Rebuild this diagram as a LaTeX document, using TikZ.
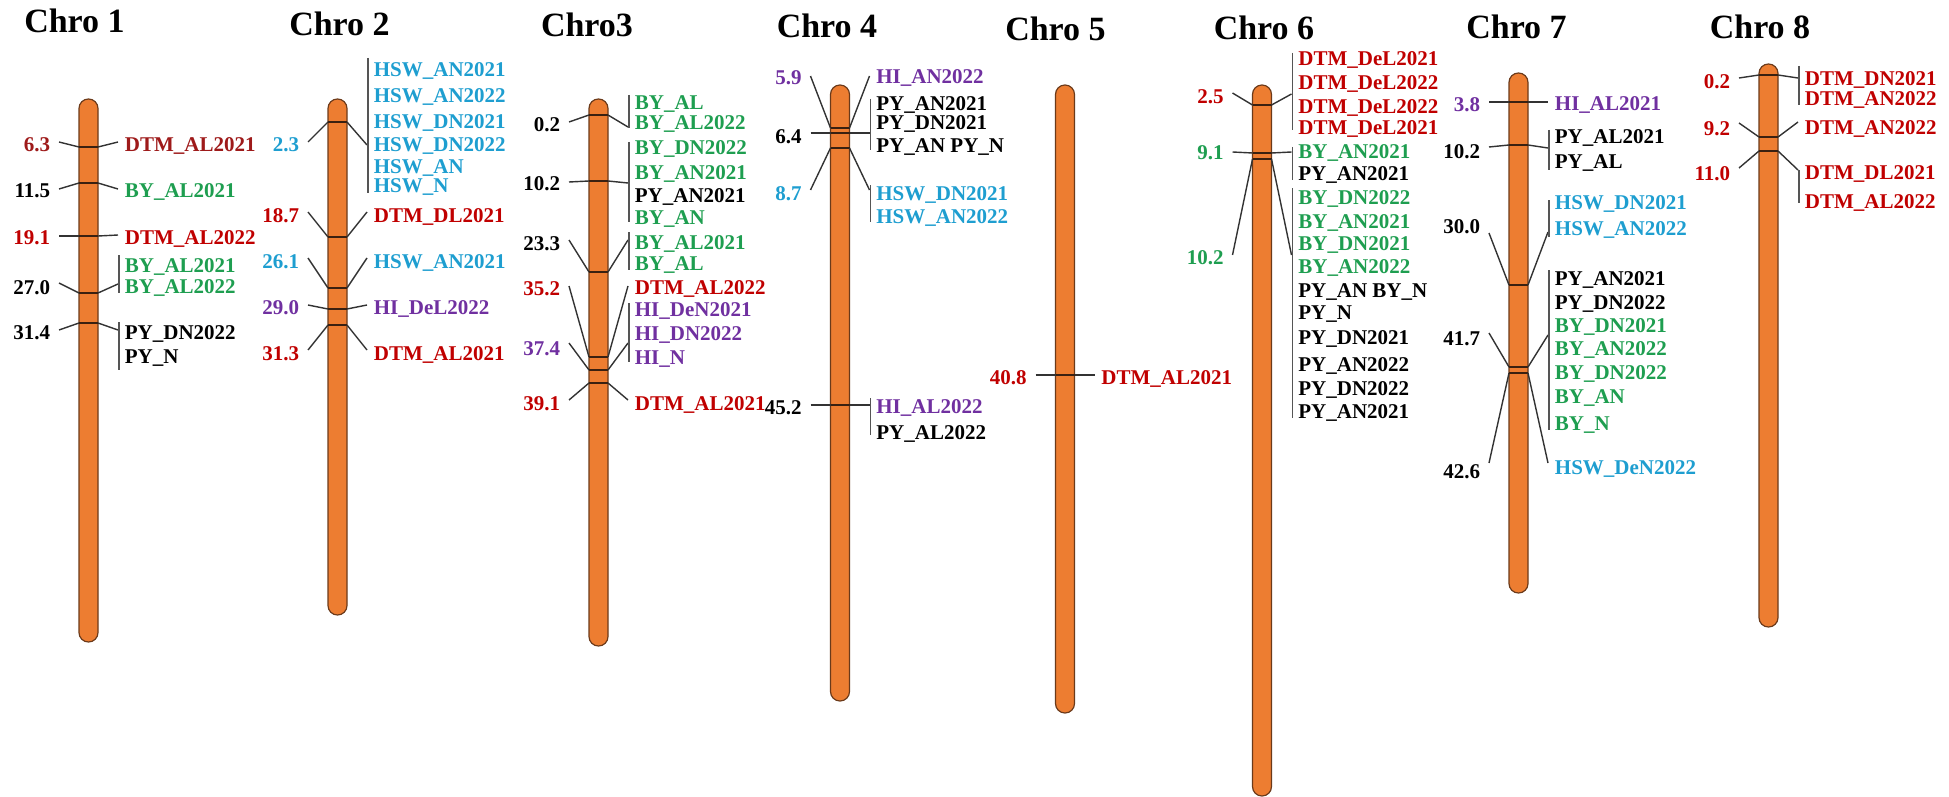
\documentclass[tikz,border=0pt]{standalone}
\usepackage{fontspec}
\setmainfont{Liberation Serif}
\definecolor{chrofill}{HTML}{ED7D31}
\definecolor{chroline}{HTML}{6B3A1A}
\definecolor{bandc}{HTML}{3A2010}
\definecolor{cred}{HTML}{C00000}
\definecolor{cmaroon}{HTML}{9E1A1A}
\definecolor{cgreen}{HTML}{1E9E50}
\definecolor{ccyan}{HTML}{1E9ED0}
\definecolor{cpurple}{HTML}{7030A0}
\definecolor{clink}{HTML}{333333}
\definecolor{cbrk}{HTML}{555555}
\tikzset{
 chrom/.style={fill=chrofill, draw=chroline, line width=0.6pt, rounded corners=4.7pt},
 ttl/.style={font=\fontsize{17}{20}\selectfont\bfseries, inner sep=0pt, anchor=base},
 num/.style={font=\fontsize{10.5}{12}\selectfont\bfseries, inner sep=0pt, anchor=base east},
 lbl/.style={font=\fontsize{10.5}{12}\selectfont\bfseries, inner sep=0pt, anchor=base west},
 link/.style={draw=clink, line width=0.7pt},
 band/.style={draw=bandc, line width=1pt},
 brk/.style={draw=cbrk, line width=0.7pt},
}
% #1 id, #2 xc, #3 band y, #4 number mid y, #5 colour, #6 number, #7 left y, #8 right y
\newcommand\qtl[8]{%
  \node[num, text=#5] (#1n) at ({#2-38},{#4+7}) {#6};
  \coordinate (#1a) at ({#2-29.5},#7);
  \coordinate (#1b) at ({#2-9.5},#3);
  \coordinate (#1c) at ({#2+9.5},#3);
  \coordinate (#1d) at ({#2+29.5},#8);
  \draw[link] (#1a) -- (#1b);
  \draw[band] (#1b) -- (#1c);
  \draw[link] (#1c) -- (#1d);
}
% #1 id, #2 xc, #3 mid y, #4 colour, #5 text
\newcommand\qlab[5]{\node[lbl, text=#4] (#1) at ({#2+36},{#3+7}) {#5};}
% #1 id, #2 xc, #3 y1, #4 y2
\newcommand\qbrk[4]{%
  \coordinate (#1p) at ({#2+30.5},#3);
  \coordinate (#1q) at ({#2+30.5},#4);
  \draw[brk] (#1p) -- (#1q);}
% #1 id, #2 xc, #3 top, #4 bottom
\newcommand\chromo[4]{\path[chrom] ({#2-9.5},#3) rectangle ({#2+9.5},#4);}
\begin{document}
\begin{tikzpicture}[x=0.5pt,y=-0.5pt]
\useasboundingbox (0,0) rectangle (1949,797);
% titles
\node[ttl] (t1) at (74.5,33) {Chro 1};
\node[ttl] (t2) at (339.5,36) {Chro 2};
\node[ttl] (t3) at (587,37) {Chro3};
\node[ttl] (t4) at (827,38) {Chro 4};
\node[ttl] (t5) at (1055.5,41) {Chro 5};
\node[ttl] (t6) at (1264,40) {Chro 6};
\node[ttl] (t7) at (1516.5,39) {Chro 7};
\node[ttl] (t8) at (1760,39) {Chro 8};
% chromosomes
\chromo{k1}{88.5}{99}{642}
\chromo{k2}{337.5}{99}{615}
\chromo{k3}{598.5}{99}{646}
\chromo{k4}{840}{85}{701}
\chromo{k5}{1065}{85}{713}
\chromo{k6}{1262}{85}{796}
\chromo{k7}{1518.5}{73}{593}
\chromo{k8}{1768.5}{64}{627}
% ---- Chro 1
\qtl{c1a}{88.5}{147}{145}{cmaroon}{6.3}{142}{142}
\qlab{l1a}{88.5}{145}{cmaroon}{DTM\_AL2021}
\qtl{c1b}{88.5}{183}{191}{black}{11.5}{189}{189}
\qlab{l1b}{88.5}{191}{cgreen}{BY\_AL2021}
\qtl{c1c}{88.5}{236}{237}{cred}{19.1}{236}{235}
\qlab{l1c}{88.5}{237}{cred}{DTM\_AL2022}
\qtl{c1d}{88.5}{293}{287}{black}{27.0}{283}{284}
\qbrk{b1d}{88.5}{255}{293}
\qlab{l1d1}{88.5}{265}{cgreen}{BY\_AL2021}
\qlab{l1d2}{88.5}{286}{cgreen}{BY\_AL2022}
\qtl{c1e}{88.5}{323}{332}{black}{31.4}{330}{330}
\qbrk{b1e}{88.5}{322}{370}
\qlab{l1e1}{88.5}{332}{black}{PY\_DN2022}
\qlab{l1e2}{88.5}{356}{black}{PY\_N}
% ---- Chro 2
\qtl{c2a}{337.5}{122}{145}{ccyan}{2.3}{142}{145}
\qbrk{b2a}{337.5}{58}{193}
\qlab{l2a1}{337.5}{70}{ccyan}{HSW\_AN2021}
\qlab{l2a2}{337.5}{96}{ccyan}{HSW\_AN2022}
\qlab{l2a3}{337.5}{121}{ccyan}{HSW\_DN2021}
\qlab{l2a4}{337.5}{144}{ccyan}{HSW\_DN2022}
\qlab{l2a5}{337.5}{167}{ccyan}{HSW\_AN}
\qlab{l2a6}{337.5}{185}{ccyan}{HSW\_N}
\qtl{c2b}{337.5}{237}{215}{cred}{18.7}{212}{212}
\qlab{l2b}{337.5}{215}{cred}{DTM\_DL2021}
\qtl{c2c}{337.5}{288}{261}{ccyan}{26.1}{258}{258}
\qlab{l2c}{337.5}{261}{ccyan}{HSW\_AN2021}
\qtl{c2d}{337.5}{309}{307}{cpurple}{29.0}{305}{305}
\qlab{l2d}{337.5}{307}{cpurple}{HI\_DeL2022}
\qtl{c2e}{337.5}{325}{353}{cred}{31.3}{350}{350}
\qlab{l2e}{337.5}{353}{cred}{DTM\_AL2021}
% ---- Chro 3
\qtl{c3a}{598.5}{115}{125}{black}{0.2}{122}{127}
\qbrk{b3a}{598.5}{95}{128}
\qlab{l3a1}{598.5}{103}{cgreen}{BY\_AL}
\qlab{l3a2}{598.5}{123}{cgreen}{BY\_AL2022}
\qtl{c3b}{598.5}{181}{184}{black}{10.2}{182}{183}
\qbrk{b3b}{598.5}{142}{222}
\qlab{l3b1}{598.5}{148}{cgreen}{BY\_DN2022}
\qlab{l3b2}{598.5}{172}{cgreen}{BY\_AN2021}
\qlab{l3b3}{598.5}{195}{black}{PY\_AN2021}
\qlab{l3b4}{598.5}{217}{cgreen}{BY\_AN}
\qtl{c3c}{598.5}{272}{243}{black}{23.3}{240}{240}
\qbrk{b3c}{598.5}{232}{270}
\qlab{l3c1}{598.5}{242}{cgreen}{BY\_AL2021}
\qlab{l3c2}{598.5}{263}{cgreen}{BY\_AL}
\qtl{c3d}{598.5}{357}{288}{cred}{35.2}{286}{286}
\qlab{l3d}{598.5}{287}{cred}{DTM\_AL2022}
\qtl{c3e}{598.5}{370}{348}{cpurple}{37.4}{343}{343}
\qbrk{b3e}{598.5}{303}{362}
\qlab{l3e1}{598.5}{309}{cpurple}{HI\_DeN2021}
\qlab{l3e2}{598.5}{333}{cpurple}{HI\_DN2022}
\qlab{l3e3}{598.5}{357}{cpurple}{HI\_N}
\qtl{c3f}{598.5}{383}{403}{cred}{39.1}{400}{400}
\qlab{l3f}{598.5}{403}{cred}{DTM\_AL2021}
% ---- Chro 4
\qtl{c4a}{840}{128}{78}{cpurple}{5.9}{76}{76}
\qlab{l4a}{840}{77}{cpurple}{HI\_AN2022}
\qtl{c4b}{840}{133}{136}{black}{6.4}{133}{133}
\qbrk{b4b}{840}{99}{150}
\qlab{l4b1}{840}{104}{black}{PY\_AN2021}
\qlab{l4b2}{840}{123}{black}{PY\_DN2021}
\qlab{l4b3}{840}{146}{black}{PY\_AN PY\_N}
\qtl{c4c}{840}{148}{193}{ccyan}{8.7}{190}{190}
\qbrk{b4c}{840}{185}{222}
\qlab{l4c1}{840}{193}{ccyan}{HSW\_DN2021}
\qlab{l4c2}{840}{216}{ccyan}{HSW\_AN2022}
\qtl{c4d}{840}{405}{407}{black}{45.2}{405}{405}
\qbrk{b4d}{840}{398}{435}
\qlab{l4d1}{840}{406}{cpurple}{HI\_AL2022}
\qlab{l4d2}{840}{432}{black}{PY\_AL2022}
% ---- Chro 5
\qtl{c5a}{1065}{375}{377}{cred}{40.8}{375}{375}
\qlab{l5a}{1065}{377}{cred}{DTM\_AL2021}
% ---- Chro 6
\qtl{c6a}{1262}{105}{97}{cred}{2.5}{93}{94}
\qbrk{b6a}{1262}{53}{130}
\qlab{l6a1}{1262}{59}{cred}{DTM\_DeL2021}
\qlab{l6a2}{1262}{83}{cred}{DTM\_DeL2022}
\qlab{l6a3}{1262}{106}{cred}{DTM\_DeL2022}
\qlab{l6a4}{1262}{127}{cred}{DTM\_DeL2021}
\qtl{c6b}{1262}{153}{153}{cgreen}{9.1}{152}{152}
\qbrk{b6b}{1262}{147}{180}
\qlab{l6b1}{1262}{152}{cgreen}{BY\_AN2021}
\qlab{l6b2}{1262}{173}{black}{PY\_AN2021}
\qtl{c6c}{1262}{159}{257}{cgreen}{10.2}{255}{255}
\qbrk{b6c}{1262}{188}{418}
\qlab{l6c1}{1262}{198}{cgreen}{BY\_DN2022}
\qlab{l6c2}{1262}{221}{cgreen}{BY\_AN2021}
\qlab{l6c3}{1262}{243}{cgreen}{BY\_DN2021}
\qlab{l6c4}{1262}{266}{cgreen}{BY\_AN2022}
\qlab{l6c5}{1262}{290}{black}{PY\_AN BY\_N}
\qlab{l6c6}{1262}{312}{black}{PY\_N}
\qlab{l6c7}{1262}{337}{black}{PY\_DN2021}
\qlab{l6c8}{1262}{364}{black}{PY\_AN2022}
\qlab{l6c9}{1262}{388}{black}{PY\_DN2022}
\qlab{l6c10}{1262}{411}{black}{PY\_AN2021}
% ---- Chro 7
\qtl{c7a}{1518.5}{102}{105}{cpurple}{3.8}{102}{102}
\qlab{l7a}{1518.5}{104}{cpurple}{HI\_AL2021}
\qtl{c7b}{1518.5}{145}{152}{black}{10.2}{147}{148}
\qbrk{b7b}{1518.5}{130}{170}
\qlab{l7b1}{1518.5}{136}{black}{PY\_AL2021}
\qlab{l7b2}{1518.5}{162}{black}{PY\_AL}
\qtl{c7c}{1518.5}{285}{226}{black}{30.0}{233}{232}
\qbrk{b7c}{1518.5}{200}{237}
\qlab{l7c1}{1518.5}{202}{ccyan}{HSW\_DN2021}
\qlab{l7c2}{1518.5}{228}{ccyan}{HSW\_AN2022}
\qtl{c7d}{1518.5}{367}{338}{black}{41.7}{333}{335}
\qbrk{b7d}{1518.5}{270}{430}
\qlab{l7d1}{1518.5}{278}{black}{PY\_AN2021}
\qlab{l7d2}{1518.5}{302}{black}{PY\_DN2022}
\qlab{l7d3}{1518.5}{325}{cgreen}{BY\_DN2021}
\qlab{l7d4}{1518.5}{348}{cgreen}{BY\_AN2022}
\qlab{l7d5}{1518.5}{372}{cgreen}{BY\_DN2022}
\qlab{l7d6}{1518.5}{396}{cgreen}{BY\_AN}
\qlab{l7d7}{1518.5}{423}{cgreen}{BY\_N}
\qtl{c7e}{1518.5}{373}{471}{black}{42.6}{463}{463}
\qlab{l7e}{1518.5}{467}{ccyan}{HSW\_DeN2022}
% ---- Chro 8
\qtl{c8a}{1768.5}{75}{82}{cred}{0.2}{78}{78}
\qbrk{b8a}{1768.5}{66}{105}
\qlab{l8a1}{1768.5}{79}{cred}{DTM\_DN2021}
\qlab{l8a2}{1768.5}{98}{cred}{DTM\_AN2022}
\qtl{c8b}{1768.5}{137}{128}{cred}{9.2}{123}{122}
\qlab{l8b}{1768.5}{127}{cred}{DTM\_AN2022}
\qtl{c8c}{1768.5}{151}{173}{cred}{11.0}{168}{170}
\qbrk{b8c}{1768.5}{170}{203}
\qlab{l8c1}{1768.5}{172}{cred}{DTM\_DL2021}
\qlab{l8c2}{1768.5}{201}{cred}{DTM\_AL2022}
\end{tikzpicture}
\end{document}
